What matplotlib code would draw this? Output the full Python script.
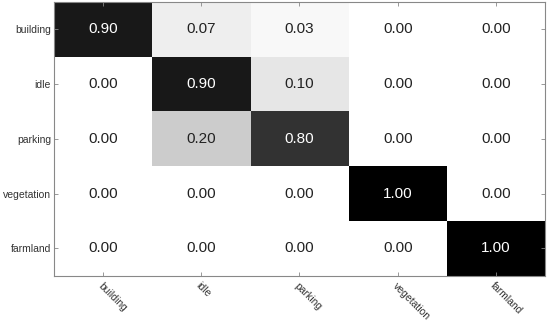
import numpy as np
import matplotlib
matplotlib.use('Agg')
import matplotlib.pyplot as plt

plt.rcParams['font.family'] = ['Liberation Sans', 'DejaVu Sans']

# Confusion matrix values
classes = ['building', 'idle', 'parking', 'vegetation', 'farmland']
cm = np.array([
    [0.90, 0.07, 0.03, 0.00, 0.00],
    [0.00, 0.90, 0.10, 0.00, 0.00],
    [0.00, 0.20, 0.80, 0.00, 0.00],
    [0.00, 0.00, 0.00, 1.00, 0.00],
    [0.00, 0.00, 0.00, 0.00, 1.00],
])

fig = plt.figure(figsize=(5.5, 3.23), dpi=100)
ax = fig.add_axes([0.098, 0.146, 0.893, 0.848])
ax.imshow(cm, cmap='gray_r', vmin=0, vmax=1, aspect='auto', interpolation='nearest')

# Cell annotations
for i in range(cm.shape[0]):
    for j in range(cm.shape[1]):
        col = 'white' if cm[i, j] > 0.5 else '#222222'
        ax.text(j, i, f'{cm[i, j]:.2f}', ha='center', va='center',
                fontsize=11, color=col)

ax.set_xticks(np.arange(len(classes)))
ax.set_yticks(np.arange(len(classes)))
ax.set_xticklabels(classes, rotation=-45, ha='left', va='top',
                   rotation_mode='anchor', fontsize=7.5, color='#333333')
ax.set_yticklabels(classes, fontsize=7.5, color='#333333')
ax.tick_params(axis='y', pad=2)
ax.tick_params(direction='in', length=3, top=True, right=True,
               color='#888888', width=0.6)
for s in ax.spines.values():
    s.set_color('#888888')
    s.set_linewidth(0.8)

fig.savefig('out.png', dpi=100)
